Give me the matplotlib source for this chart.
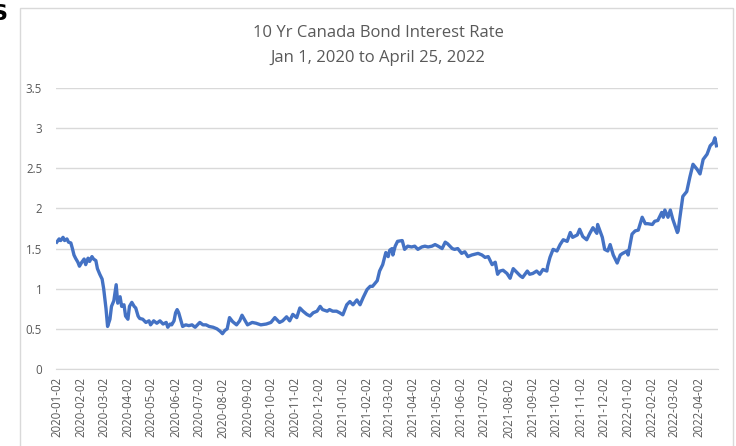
import matplotlib
matplotlib.use("Agg")
import matplotlib.pyplot as plt
from matplotlib.patches import Rectangle
import pandas as pd

dates = [
 "2020-01-02","2020-01-05","2020-01-07","2020-01-10","2020-01-12","2020-01-15","2020-01-17","2020-01-20",
 "2020-01-22","2020-01-24","2020-01-26","2020-01-29","2020-01-31","2020-02-03","2020-02-06","2020-02-08",
 "2020-02-11","2020-02-13","2020-02-16","2020-02-18","2020-02-21","2020-02-23","2020-02-26","2020-02-29",
 "2020-03-02","2020-03-05","2020-03-07","2020-03-10","2020-03-12","2020-03-15","2020-03-18","2020-03-20",
 "2020-03-23","2020-03-25","2020-03-28","2020-03-30","2020-04-02","2020-04-04","2020-04-07","2020-04-10",
 "2020-04-12","2020-04-15","2020-04-17","2020-04-21","2020-04-25","2020-04-29","2020-05-01","2020-05-05",
 "2020-05-09","2020-05-13","2020-05-17","2020-05-21","2020-05-23","2020-05-26","2020-05-28","2020-05-31",
 "2020-06-02","2020-06-04","2020-06-06","2020-06-09","2020-06-11","2020-06-15","2020-06-19","2020-06-23",
 "2020-06-27","2020-06-30","2020-07-03","2020-07-07","2020-07-11","2020-07-15","2020-07-20","2020-07-25",
 "2020-07-29","2020-08-01","2020-08-04","2020-08-07","2020-08-10","2020-08-14","2020-08-19","2020-08-23",
 "2020-08-26","2020-08-30","2020-09-02","2020-09-08","2020-09-13","2020-09-19","2020-09-26","2020-10-02",
 "2020-10-07","2020-10-11","2020-10-13","2020-10-17","2020-10-22","2020-10-26","2020-10-30","2020-11-04",
 "2020-11-08","2020-11-12","2020-11-17","2020-11-21","2020-11-25","2020-11-30","2020-12-04","2020-12-07",
 "2020-12-13","2020-12-16","2020-12-20","2020-12-25","2020-12-29","2021-01-02","2021-01-07","2021-01-11",
 "2021-01-15","2021-01-20","2021-01-24","2021-01-28","2021-02-02","2021-02-06","2021-02-09","2021-02-15",
 "2021-02-18","2021-02-22","2021-02-26","2021-03-01","2021-03-03","2021-03-06","2021-03-07","2021-03-10",
 "2021-03-13","2021-03-19","2021-03-22","2021-03-26","2021-03-31","2021-04-04","2021-04-08","2021-04-13",
 "2021-04-17","2021-04-21","2021-04-26","2021-04-30","2021-05-04","2021-05-09","2021-05-13","2021-05-16",
 "2021-05-22","2021-05-25","2021-05-29","2021-06-03","2021-06-07","2021-06-11","2021-06-16","2021-06-20",
 "2021-06-24","2021-06-29","2021-07-03","2021-07-07","2021-07-12","2021-07-16","2021-07-19","2021-07-22",
 "2021-07-26","2021-07-31","2021-08-04","2021-08-08","2021-08-13","2021-08-17","2021-08-20","2021-08-26",
 "2021-08-29","2021-09-02","2021-09-07","2021-09-11","2021-09-15","2021-09-20","2021-09-21","2021-09-24",
 "2021-09-28","2021-10-03","2021-10-07","2021-10-11","2021-10-16","2021-10-20","2021-10-23","2021-10-29",
 "2021-11-01","2021-11-05","2021-11-10","2021-11-14","2021-11-18","2021-11-23","2021-11-24","2021-11-30",
 "2021-12-03","2021-12-07","2021-12-10","2021-12-14","2021-12-19","2021-12-23","2021-12-26","2022-01-01",
 "2022-01-02","2022-01-07","2022-01-11","2022-01-15","2022-01-20","2022-01-24","2022-01-27","2022-02-02",
 "2022-02-05","2022-02-09","2022-02-14","2022-02-16","2022-02-18","2022-02-22","2022-02-25","2022-02-28",
 "2022-03-06","2022-03-07","2022-03-09","2022-03-13","2022-03-18","2022-03-22","2022-03-26","2022-03-31",
 "2022-04-04","2022-04-08","2022-04-13","2022-04-17","2022-04-21","2022-04-23","2022-04-25",
]
rates = [
 1.58,1.62,1.60,1.64,1.60,1.62,1.58,1.57,
 1.50,1.42,1.38,1.33,1.28,1.33,1.37,1.30,
 1.38,1.34,1.40,1.37,1.35,1.25,1.18,1.12,
 1.00,0.75,0.53,0.62,0.78,0.85,1.05,0.82,
 0.90,0.78,0.80,0.66,0.62,0.78,0.83,0.78,
 0.76,0.66,0.63,0.62,0.58,0.60,0.55,0.60,
 0.57,0.60,0.56,0.58,0.52,0.56,0.55,0.60,
 0.70,0.74,0.70,0.60,0.53,0.55,0.54,0.55,
 0.52,0.55,0.58,0.55,0.55,0.53,0.52,0.50,
 0.47,0.44,0.48,0.50,0.64,0.59,0.55,0.60,
 0.67,0.60,0.55,0.58,0.57,0.55,0.56,0.58,
 0.64,0.60,0.58,0.60,0.65,0.60,0.68,0.64,
 0.76,0.72,0.68,0.66,0.70,0.72,0.78,0.74,
 0.72,0.74,0.72,0.72,0.70,0.675,0.80,0.84,
 0.80,0.86,0.80,0.89,0.99,1.03,1.03,1.10,
 1.22,1.30,1.45,1.40,1.48,1.50,1.42,1.53,
 1.59,1.60,1.49,1.53,1.52,1.53,1.49,1.52,
 1.53,1.52,1.53,1.55,1.53,1.50,1.58,1.56,
 1.50,1.49,1.50,1.44,1.46,1.40,1.42,1.43,
 1.44,1.42,1.39,1.40,1.30,1.33,1.18,1.22,
 1.23,1.19,1.13,1.25,1.20,1.16,1.14,1.22,
 1.18,1.19,1.22,1.18,1.24,1.22,1.28,1.39,
 1.49,1.47,1.55,1.61,1.59,1.70,1.64,1.67,
 1.74,1.65,1.61,1.69,1.76,1.69,1.80,1.64,
 1.49,1.47,1.55,1.42,1.32,1.42,1.44,1.47,
 1.42,1.68,1.72,1.73,1.89,1.81,1.81,1.80,
 1.84,1.85,1.95,1.89,1.98,1.89,1.98,1.87,
 1.70,1.72,1.87,2.15,2.21,2.39,2.55,2.49,
 2.43,2.61,2.675,2.78,2.82,2.88,2.78,
]
tick_dates = pd.date_range("2020-01-01", "2022-04-01", freq="MS") + pd.Timedelta(days=1)
title_lines = ["10 Yr Canada Bond Interest Rate", "Jan 1, 2020 to April 25, 2022"]

x = pd.to_datetime(dates)

fig = plt.figure(figsize=(7.36, 4.46), dpi=100)
fig.patch.set_facecolor("white")

# chart frame
fig.patches.append(Rectangle((20/736, -0.05), (733-20)/736, 1.05 - 8/446,
                             transform=fig.transFigure, fill=False,
                             edgecolor="#d9d9d9", linewidth=1.0))
fig.text(-0.012, 0.99, "S", fontsize=16, fontweight="bold", color="black",
         ha="left", va="top", family="DejaVu Sans")

ax = fig.add_axes([56/736, 1-369/446, (718-56)/736, (369-88)/446])
ax.plot(x, rates, color="#4472C4", linewidth=2.4, solid_joinstyle="round")

ax.set_ylim(0, 3.5)
ax.set_yticks([0, 0.5, 1, 1.5, 2, 2.5, 3, 3.5])
ax.set_yticklabels(["0", "0.5", "1", "1.5", "2", "2.5", "3", "3.5"])
ax.set_xlim(pd.Timestamp("2020-01-01"), pd.Timestamp("2022-04-27"))
ax.set_xticks(tick_dates)
ax.set_xticklabels([d.strftime("%Y-%m-%d") for d in tick_dates], rotation=90)

ax.grid(axis="y", color="#d9d9d9", linewidth=1.0)
ax.set_axisbelow(True)
for s in ["top", "right", "left"]:
    ax.spines[s].set_visible(False)
ax.spines["bottom"].set_color("#d9d9d9")
ax.tick_params(axis="both", length=0, colors="#595959", labelsize=8.3)
ax.tick_params(axis="y", pad=10)
ax.tick_params(axis="x", pad=6)
for lab in ax.get_xticklabels() + ax.get_yticklabels():
    lab.set_family("Open Sans")

fig.text(378/736, 1-33/446, title_lines[0], ha="center", va="center",
         fontsize=12, color="#595959", family="Open Sans")
fig.text(378/736, 1-58/446, title_lines[1], ha="center", va="center",
         fontsize=12, color="#595959", family="Open Sans")

fig.savefig("out.png", dpi=100)
